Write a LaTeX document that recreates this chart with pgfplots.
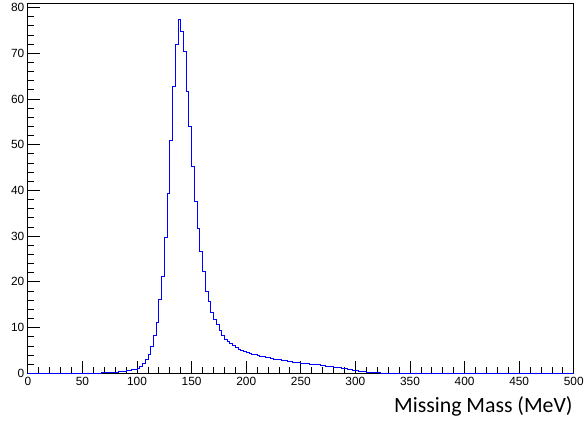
\documentclass[border=0pt]{standalone}
\usepackage{pgfplots}
\pgfplotsset{compat=1.18}
\usepackage{fontspec}
\setmainfont{Liberation Sans}
\newfontfamily\carlito{Carlito}
\begin{document}
\begin{tikzpicture}
\path (0,0) rectangle (587bp,425bp);
\begin{axis}[
  at={(28bp,52bp)}, anchor=south west,
  scale only axis, width=549bp, height=372.5bp,
  xmin=0, xmax=500, ymin=0, ymax=81,
  xtick={0,50,...,500}, ytick={0,10,...,80},
  minor x tick num=4, minor y tick num=4,
  tick pos=left, tick align=inside,
  major tick length=12bp, minor tick length=6bp,
  ticklabel style={font=\fontsize{12}{14}\selectfont},
  /pgf/number format/assume math mode=true,
  axis line style={line width=0.8bp},
  tick style={black, line width=0.8bp},
]
\addplot[const plot, blue, line width=0.8bp] coordinates {
(0,0) (55,0) (57.5,0.05) (60,0.05) (62.5,0.1) (65,0.1) (67.5,0.15) (70,0.15)
(72.5,0.2) (75,0.2) (77.5,0.25) (80,0.3) (82.5,0.35) (85,0.4) (87.5,0.5)
(90,0.6) (92.5,0.7) (95,0.85) (97.5,0.95) (100,1.1) (102.5,1.6) (105,2.2)
(107.5,3.1) (110,4.2) (112.5,6.0) (115,8.4) (117.5,11.2) (120,16.1)
(122.5,21.1) (125,29.8) (127.5,39.3) (130,51.0) (132.5,62.7) (135,72.0)
(137.5,77.3) (140,74.7) (142.5,70.3) (145,61.6) (147.5,54.0) (150,45.3)
(152.5,37.6) (155,31.8) (157.5,26.6) (160,22.2) (162.5,18.0) (165,15.7)
(167.5,13.4) (170,11.9) (172.5,10.7) (175,9.4) (177.5,8.4) (180,7.5)
(182.5,7.0) (185,6.5) (187.5,6.1) (190,5.6) (192.5,5.3) (195,5.0)
(197.5,4.9) (200,4.6) (202.5,4.4) (205,4.2) (207.5,4.1) (210,3.9)
(212.5,3.8) (215,3.6) (217.5,3.5) (220,3.4) (222.5,3.3) (225,3.15)
(227.5,3.05) (230,2.95) (232.5,2.85) (235,2.75) (237.5,2.65) (240,2.6)
(242.5,2.5) (245,2.4) (247.5,2.35) (250,2.25) (252.5,2.2) (255,2.1)
(257.5,2.05) (260,1.95) (262.5,1.9) (265,1.85) (267.5,1.75) (270,1.7)
(272.5,1.6) (275,1.55) (277.5,1.45) (280,1.4) (282.5,1.3) (285,1.2)
(287.5,1.1) (290,1.0) (292.5,0.9) (295,0.8) (297.5,0.7) (300,0.6)
(302.5,0.5) (305,0.45) (307.5,0.35) (310,0.3) (312.5,0.25) (315,0.2)
(317.5,0.15) (320,0.12) (322.5,0.1) (325,0.08) (327.5,0.06) (330,0.05)
(332.5,0.03) (335,0.02) (337.5,0.01) (340,0) (500,0)
};
\end{axis}
\node[anchor=base east, inner sep=0pt, font=\carlito\fontsize{22}{26}\selectfont] at (576bp,12.6bp) {Missing Mass (MeV)};
\end{tikzpicture}
\end{document}
